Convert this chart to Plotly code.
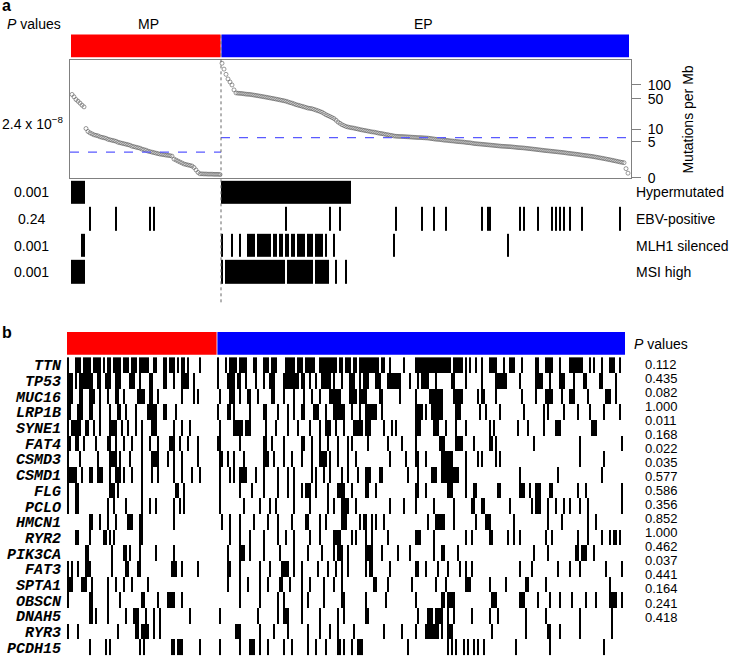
import numpy as np
import plotly.graph_objects as go

W, H = 732, 664
FONT = "Liberation Sans, Arial, sans-serif"

# ---------------- data ----------------
group_names = ["MP", "EP"]
group_colors = ["#ff0000", "#0000ff"]

# mutations per Mb, sorted
mut_mp = [62, 55, 48, 44, 40, 36, 33,
          10.6, 8.99, 8.33, 7.89, 7.46, 7.26, 7.05, 6.67, 6.48, 6.31, 6.13, 5.79, 5.62, 5.46,
          5.31, 5.15, 4.86, 4.71, 4.57, 4.44, 4.31, 4.18, 4.05, 3.81, 3.70, 3.58, 3.47, 3.36,
          3.15, 3.05, 2.95, 2.77, 2.67, 2.58, 2.50, 2.41, 2.33, 2.25, 2.20, 2.15, 2.09, 2.05,
          2.01, 1.94, 1.54, 1.42, 1.30, 1.19, 1.09, 0.99, 0.94, 0.89, 0.85, 0.80, 0.67, 0.48,
          0.31,
          0.22, 0.22, 0.21, 0.21, 0.20, 0.20, 0.20, 0.19, 0.19, 0.19, 0.18]
mut_ep = [296, 221, 170, 135, 116, 100, 78, 67,
          66, 65.5, 65, 64, 63, 62.5, 62, 61, 60, 59, 58, 57, 56, 55,
          54, 53, 52, 51, 50, 49, 48, 47, 46, 45, 44, 42.5, 41, 40, 38.5, 37,
          36, 35, 34, 33, 32, 31, 30.5, 30, 29, 28, 27, 26,
          25, 23.5, 22, 21, 20, 19, 18, 16.5, 15, 14,
          13, 12.4, 11.8,
          11.5, 11.2, 11, 10.8, 10.5, 10.3, 10, 9.8, 9.6, 9.4, 9.2, 9.0,
          8.8, 8.7, 8.5, 8.3, 8.1, 8.0, 7.8, 7.6, 7.5, 7.3, 7.2, 7.0, 6.9,
          6.85, 6.8, 6.8, 6.75, 6.7, 6.65, 6.6, 6.55, 6.5, 6.45, 6.4, 6.4, 6.35, 6.3, 6.25, 6.2,
          6.1, 6.0, 5.9, 5.8, 5.75, 5.7, 5.6, 5.5, 5.45, 5.4, 5.3, 5.25, 5.2, 5.1, 5.05, 5.0,
          4.95, 4.9, 4.8, 4.75, 4.7, 4.6, 4.5,
          4.45, 4.4, 4.35, 4.3, 4.25, 4.2, 4.15, 4.1, 4.05, 4.0, 3.95, 3.9, 3.85, 3.8, 3.78,
          3.75, 3.72, 3.7, 3.65, 3.6, 3.55, 3.5, 3.47, 3.44, 3.4,
          3.35, 3.3, 3.25, 3.2, 3.15, 3.1, 3.05, 3.0, 2.95, 2.9, 2.86, 2.82, 2.78, 2.74, 2.7,
          2.66, 2.62, 2.58, 2.54, 2.5, 2.45,
          2.4, 2.36, 2.32, 2.28, 2.24, 2.2, 2.15, 2.1, 2.06, 2.02, 1.98, 1.94,
          1.9, 1.85, 1.8, 1.75, 1.7, 1.65, 1.6, 1.55, 1.5, 1.45, 1.4, 1.35, 1.3, 1.25, 1.2,
          1.16, 1.12,
          0.58, 0.26]
median_mp = 2.6
median_ep = 6.4
mut_ticks = [0, 5, 10, 50, 100]
scatter_p = "2.4 x 10<sup>\u22128</sup>"

# clinical features (sample indices within each group)
feature_names = ["Hypermutated", "EBV-positive", "MLH1 silenced", "MSI high"]
feature_p = ["0.001", "0.24", "0.001", "0.001"]
hyper_mp = "0-6"
hyper_ep = "0-64"
ebv_mp = "9 22 39 41"
ebv_ep = "32 54 59 87 100 106 112 130 133-134 149 151 158 165 167 169 171 174 180 199"
mlh1_mp = "5-6"
mlh1_ep = "0 5 9 13-16 18-24 26-27 29-30 32-33 35-36 38-41 43-45 47-50 52 56 86 143"
msi_mp = "0-6"
msi_ep = "0 2-31 33-45 47-53 57 62"

# gene mutation matrix (mutated sample indices within MP / EP)
genes = ["TTN", "TP53", "MUC16", "LRP1B", "SYNE1", "FAT4", "CSMD3", "CSMD1", "FLG", "PCLO",
         "HMCN1", "RYR2", "PIK3CA", "FAT3", "SPTA1", "OBSCN", "DNAH5", "RYR3", "PCDH15"]
gene_p = ["0.112", "0.435", "0.082", "1.000", "0.011", "0.168", "0.022", "0.035", "0.577",
          "0.586", "0.356", "0.852", "1.000", "0.462", "0.037", "0.441", "0.164", "0.241", "0.418"]

TTN_MP = "0 4-6 8-11 13-16 18 20-21 23-26 28-30 32-34 36-40 43-44 48-49 51-53 55 57-58 60 66"
TTN_EP = ("0 4 6-9 11-14 18-19 23-25 27-29 34-38 40-42 44-48 51-59 61-62 64-66 68-69 71-73 74-76 "
          "77-80 82-83 86 93 99-116 118-122 124 126 129 132 136-139 143 146-148 152 159-160 "
          "164-167 171 176-182 186 188 192 196-198 201")
TP53_MP = "0-2 4 6-12 15-16 19-21 24-26 31-33 36 41-42 48-49 53 57-60 63"
TP53_EP = ("0 5-8 10-11 14 19 23 26-28 33-40 42-43 46 49 52-56 58 62 66-68 71 73-75 79-81 85-91 "
           "96 100 102-105 109 117-118 124 132 139-144 151 159-162 166 171-173 178 183-184 "
           "191-192 199")
MUC16_MP = "0-2 6-7 11-13 16 20 24-25 28 35-38 41-42 45 57 63 65"
MUC16_EP = ("1 6-8 11 15-16 20 27-28 33 38 43 47 51 56-61 66-69 71-74 81-82 91 99 106-112 "
            "118-122 130 132-133 139 152 159 164-167 172 176-178 185 194-196 199")
LRP1B_MP = "0-1 5-7 11-12 16 21 25-26 29 34 40-44 48-49 54"
LRP1B_EP = ("0 5-6 8 16 23-24 30 35 38 42-43 48-50 54 58-63 67 71 74-79 82 99-102 104 107-112 "
            "119-121 131 134 141 153 163 165 173 180 186 193 201")
SYNE1_MP = "0 2-6 9-10 13 16 21-24 27 30 34 37 42-44 53 57 61"
SYNE1_EP = ("1 8-12 14-16 24 29 35 40 46 51 54-56 59 63 68-72 74-76 83 87 89 99-101 108-110 "
            "114 119 124 136 138 150 155 163 169-171 187-189")
FAT4_MP = "0-1 4-5 8 14 20-21 24 28 32 37 41 45 51-53 56 60 65"
FAT4_EP = "0-1 11 23-24 27 33 42-43 47 51 55 60 65 67 75 85 92 99 111-113 119-122 128 136-137 139 158 181 202"
CSMD3_MP = "0 6 15 21-24 26 31 37 42-45 50 53 57 65"
CSMD3_EP = "1-2 5 8 13 23-25 28 33 37 42 47 51-54 56 60 65 69 86 94 99-100 104 112-117 124 130 132 139 141 181 193"
CSMD1_MP = "0-4 7 11-12 15-17 21 24-26 28 32 37 42 45 53 57 62 66"
CSMD1_EP = "1 6 8 11-14 19 23 30 35 38 47 49 53 56 62 65 70 74-76 81-82 95 100 107-109 112-120 124 151 170 192"
FLG_MP = "0 4-5 21-23 25 37 54-55 58"
FLG_EP = ("1 11 17 23 30 35 38 42 44-46 49 55 60-63 67 74-75 79 99-100 104 115-117 124 128-129 "
          "140-141 151-153 156 159-161 166-167 180 184 202")
PCLO_MP = "0 4-5 20 23 29 37 41 44 53 56 58"
PCLO_EP = ("1 13 21 26 29 38 46 55 58 62-65 69 86 93 99 108 118 127-128 132-133 146 157 159-161 "
           "165 169 173 176 181 185 202")
HMCN1_MP = "11-12 16 20 24 30-32 36-37 53"
HMCN1_EP = "2 6 11 18 25 30 37 44-45 51 54 62-64 71 73-74 77 79 83 105 109-113 118 129 134-136 148 165 172 185 189"
RYR2_MP = "4-5 11 18-19 21 23 36-37"
RYR2_EP = "6 11 16 23 30 34 38 46 51 58-61 67 69 74 77 85 99-101 108 124 127 136-137 145 148 151 164 167 180 185 192 196 198-199 201"
PIK3CA_MP = "9-10 22 28-29 31 36 44 53"
PIK3CA_EP = "5 11-13 16 23 31 38 45 52 58 60-62 65 74-77 82 90 96 108 112-113 120 158 165 179-180 182-184 188"
FAT3_MP = "0 2 5 9-11 22 29-30 35-36 52-54 57 65"
FAT3_EP = "5-6 11 21 26 32-35 38 42 50 55 59 62 65 74 76-77 86 99-100 104 110 115 121 124 127 151 157 170 176 181 194 202"
SPTA1_MP = "0-2 7-9 12 20 24 28 32 40"
SPTA1_EP = "5 11 15 21 25 31-32 36 42 46 53 58 62 78-79 85 97 109 114 124-126 136 144 154-155 164 196"
OBSCN_MP = "0 11-12 20 26 37-38 45 50-53 57"
OBSCN_EP = "11 21 30 33 42 45 53 62-63 74 84 99 112-113 115-118 137-139 151-153 160 166 171 177 184 189 196-199 202"
DNAH5_MP = "11-12 14 20 29 33-35 39 43 46 61"
DNAH5_EP = "1 20 30 33-35 42 51 60 63 74-75 100 105-107 109-112 115 118 127 136 140 154 164 181 197"
RYR3_MP = "0 5 25 34-35 37-40 43 46"
RYR3_EP = "9-11 21 28 35 45 51 56 60 68 83 92 99 104-110 112 115-117 137 154 165-166 171 181 197"
PCDH15_MP = "11 19 21 36 38 52-53 55-57 66"
PCDH15_EP = "1 11 16-18 21 25 33 37 45 49 54 60-61 63 67 70-72 95 115 117 119 123 125 128 130 133 149 166 193"

gene_rows = [(TTN_MP, TTN_EP), (TP53_MP, TP53_EP), (MUC16_MP, MUC16_EP), (LRP1B_MP, LRP1B_EP),
             (SYNE1_MP, SYNE1_EP), (FAT4_MP, FAT4_EP), (CSMD3_MP, CSMD3_EP), (CSMD1_MP, CSMD1_EP),
             (FLG_MP, FLG_EP), (PCLO_MP, PCLO_EP), (HMCN1_MP, HMCN1_EP), (RYR2_MP, RYR2_EP),
             (PIK3CA_MP, PIK3CA_EP), (FAT3_MP, FAT3_EP), (SPTA1_MP, SPTA1_EP), (OBSCN_MP, OBSCN_EP),
             (DNAH5_MP, DNAH5_EP), (RYR3_MP, RYR3_EP), (PCDH15_MP, PCDH15_EP)]
feature_rows = [(hyper_mp, hyper_ep), (ebv_mp, ebv_ep), (mlh1_mp, mlh1_ep), (msi_mp, msi_ep)]

# ---------------- helpers ----------------
n_mp, n_ep = len(mut_mp), len(mut_ep)
n_all = n_mp + n_ep


def parse(s):
    out = []
    for tok in s.split():
        if "-" in tok:
            a, b = tok.split("-")
            out.extend(range(int(a), int(b) + 1))
        else:
            out.append(int(tok))
    return out


def binary_row(mp_s, ep_s):
    r = [0] * n_all
    for i in parse(mp_s):
        if i < n_mp:
            r[i] = 1
    for j in parse(ep_s):
        if j < n_ep:
            r[n_mp + j] = 1
    return r


def py(p):
    return 1 - p / H


def px(p):
    return p / W


def ann(text, x, y, xanchor="left", size=14, family=FONT, **kw):
    return dict(text=text, x=px(x), y=py(y), xref="paper", yref="paper", showarrow=False,
                xanchor=xanchor, yanchor="middle", borderpad=0,
                font=dict(size=size, family=family, color="black"), **kw)


tf = lambda v: np.log10(np.asarray(v, dtype=float) + 1)
xs_all = np.arange(n_all)
boundary = n_mp - 0.5

fig = go.Figure()

# clinical feature rows
zf = [binary_row(a, b) for a, b in feature_rows]
fig.add_trace(go.Heatmap(z=zf, x=xs_all, y=list(range(len(zf))), xaxis="x2", yaxis="y2",
                         colorscale=[[0, "white"], [1, "black"]], zmin=0, zmax=1, showscale=False,
                         ygap=3, hoverinfo="skip"))

# gene mutation matrix
zg = [binary_row(a, b) for a, b in gene_rows]
fig.add_trace(go.Heatmap(z=zg, x=xs_all, y=list(range(len(zg))), xaxis="x3", yaxis="y3",
                         colorscale=[[0, "white"], [1, "black"]], zmin=0, zmax=1, showscale=False,
                         hoverinfo="skip"))

# scatter of mutation rates
for xs, vals in [(xs_all[:n_mp], mut_mp), (xs_all[n_mp:], mut_ep)]:
    fig.add_trace(go.Scatter(x=xs, y=tf(vals), mode="markers", xaxis="x", yaxis="y",
                             marker=dict(symbol="circle-open", size=4, color="#555555", line=dict(width=0.6)),
                             showlegend=False, hoverinfo="skip"))

shapes = []
# group header bars (panel a and b)
for xref, y0, y1 in [("x", 35, 58), ("x3", 336, 359)]:
    shapes.append(dict(type="rect", xref=xref, yref="paper", x0=-0.5, x1=boundary - 0.2,
                       y0=py(y1), y1=py(y0), fillcolor=group_colors[0], line=dict(width=0)))
    shapes.append(dict(type="rect", xref=xref, yref="paper", x0=boundary + 0.2, x1=n_all - 0.5,
                       y0=py(y1), y1=py(y0), fillcolor=group_colors[1], line=dict(width=0)))
# median lines
shapes.append(dict(type="line", xref="x", yref="y", x0=-1, x1=boundary, y0=tf(median_mp), y1=tf(median_mp),
                   line=dict(color="#5a5aff", width=1.2, dash="dash"), layer="above"))
shapes.append(dict(type="line", xref="x", yref="y", x0=boundary, x1=n_all + 0.5, y0=tf(median_ep), y1=tf(median_ep),
                   line=dict(color="#5a5aff", width=1.2, dash="dash"), layer="above"))
# dotted separator
shapes.append(dict(type="line", xref="x", yref="paper", x0=boundary, x1=boundary, y0=py(306), y1=py(35),
                   line=dict(color="#666666", width=1, dash="dot")))

annotations = [
    ann("<b>a</b>", 1, 6, size=16),
    ann("<i>P</i> values", 6, 24),
    ann(group_names[0], 148, 24, xanchor="center"),
    ann(group_names[1], 423, 24, xanchor="center"),
    ann(scatter_p, 65, 125, xanchor="right"),
    ann("Mutations per Mb", 688, 121, xanchor="center", textangle=-90),
    ann("<b>b</b>", 1, 337, size=16),
    ann("<i>P</i> values", 633, 348),
]
for k, (name, p) in enumerate(zip(feature_names, feature_p)):
    yy = [194, 222, 249, 275][k]
    annotations.append(ann(p, 31, yy, xanchor="center"))
    annotations.append(ann(name, 635, yy))
for k, p in enumerate(gene_p):
    annotations.append(ann(p, 644, 369.3 + 14.18 * k, size=13))

fig.update_layout(
    width=W, height=H, margin=dict(l=0, r=0, t=0, b=0),
    paper_bgcolor="white", plot_bgcolor="rgba(0,0,0,0)",
    showlegend=False, shapes=shapes, annotations=annotations,
    font=dict(family=FONT, size=14, color="black"),
    xaxis=dict(domain=[px(70), px(631)], range=[-1, n_all + 0.5], anchor="y",
               showline=True, mirror=True, linecolor="#808080", linewidth=1,
               showticklabels=False, ticks="", showgrid=False, zeroline=False),
    yaxis=dict(domain=[py(180), py(61)], range=[0, 2.537], anchor="x", side="right",
               tickvals=list(tf(mut_ticks)), ticktext=[str(t) for t in mut_ticks],
               ticks="outside", ticklen=9, tickcolor="#808080", tickfont=dict(size=14),
               ticklabelstandoff=4,
               showline=True, mirror=True, linecolor="#808080", linewidth=1,
               showgrid=False, zeroline=False),
    xaxis2=dict(domain=[px(70), px(631)], range=[-1, n_all + 0.5], anchor="y2", visible=False),
    yaxis2=dict(domain=[py(289), py(182)], range=[3.5, -0.5], anchor="x2", visible=False),
    xaxis3=dict(domain=[px(67), px(625)], range=[-0.5, n_all - 0.5], anchor="y3", visible=False),
    yaxis3=dict(domain=[py(663.5), py(361.5)], range=[len(genes) - 0.5, -0.5], anchor="x3",
                tickvals=list(range(len(genes))), ticktext=[f"<b><i>{g}</i></b>" for g in genes],
                tickfont=dict(family="Liberation Mono, Courier New, monospace", size=15, color="black"),
                ticks="", showline=False, showgrid=False, zeroline=False, ticklabelstandoff=5),
)

# remove the default 8 px page margin so the figure sits at the window's top-left corner
fig.write_html("out.html", config={"displayModeBar": False},
               post_script="document.body.style.margin='0px';document.body.style.overflow='hidden';")
